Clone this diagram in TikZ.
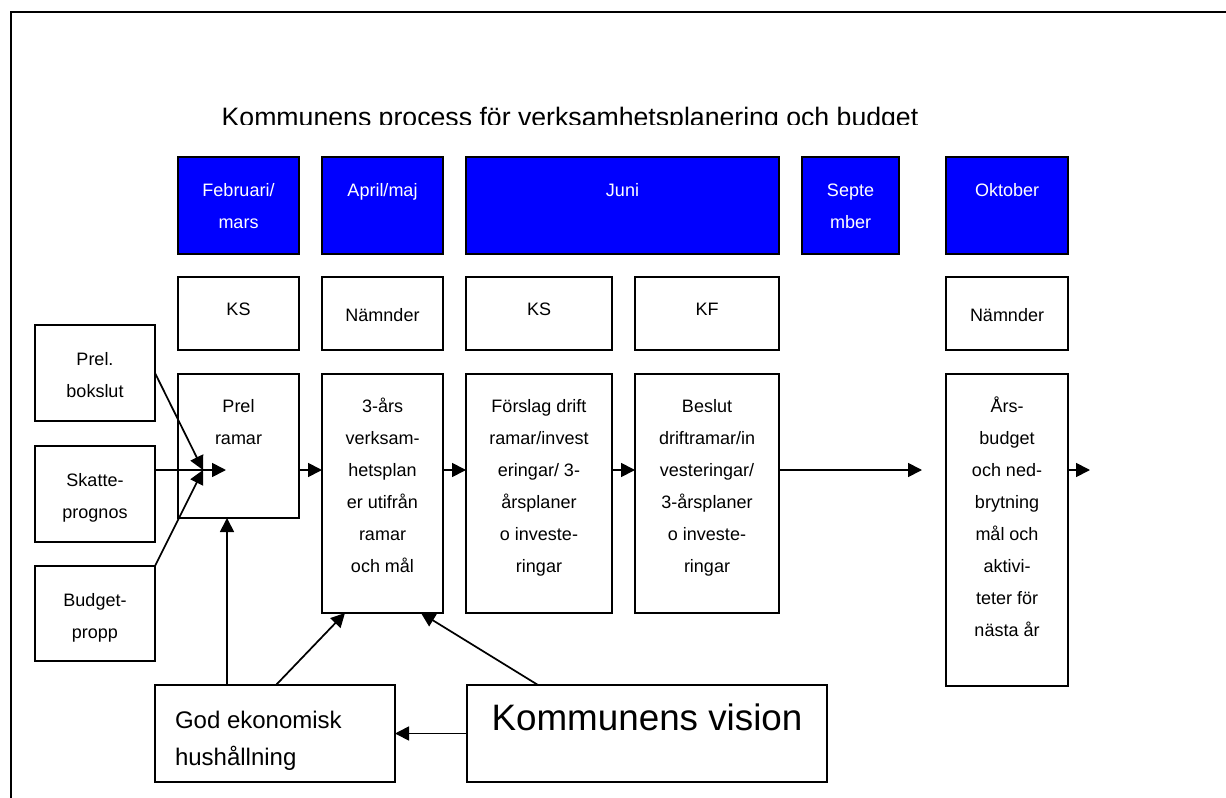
\documentclass[tikz,border=0pt]{standalone}
\usepackage{fontspec}
\setmainfont{Liberation Sans}
\usetikzlibrary{arrows.meta}
% box macro: name, x1, y1, x2, y2 (px), style, content
\newcommand\bxnode[7]{%
  \node[#6] (#1) at (#2,#3) {\parbox[c][\dimexpr(#5pt-#3pt)*3/4\relax][t]{\dimexpr(#4pt-#2pt)*3/4\relax}{#7}};}
\tikzset{
  box/.style={draw, line width=1.4pt, anchor=north west, inner sep=0pt, outer sep=0pt,
    font=\fontsize{13.5pt}{24pt}\selectfont},
  month/.style={box, fill=blue, text=white},
  plain/.style={box, fill=white},
  arr/.style={-{Triangle[length=10.5pt,width=10.5pt]}, line width=1.3pt},
  frame/.style={line width=1.4pt}
}
\newcommand\ft[1]{\centering\rule{0pt}{#1}}
\begin{document}
\begin{tikzpicture}[x=0.75pt,y=-0.75pt]
\useasboundingbox (0,0) rectangle (1226,798);
\fill[white] (0,0) rectangle (1226,798);
% outer frame (open on right and bottom)
\coordinate (fa) at (11,798);
\coordinate (fb) at (11,12);
\coordinate (fc) at (1226,12);
\draw[frame] (fa) -- (fb) -- (fc);
% title (clipped at bottom as in reference)
\begin{scope}
\clip (0,80) rectangle (1226,124.5);
\node[anchor=base, inner sep=0pt, font=\fontsize{20pt}{24pt}\selectfont] (title) at (570,127) {Kommunens process för verksamhetsplanering och budget};
\end{scope}
% month row
\bxnode{feb}{178}{157}{299}{254}{month}{\ft{29.5pt}Februari/\\mars}
\bxnode{apr}{322}{157}{443}{254}{month}{\ft{29.5pt}April/maj}
\bxnode{jun}{466}{157}{779}{254}{month}{\ft{29.5pt}Juni}
\bxnode{sep}{802}{157}{899}{254}{month}{\ft{29.5pt}Septe\\mber}
\bxnode{okt}{946}{157}{1068}{254}{month}{\ft{29.5pt}Oktober}
% actor row
\bxnode{ks1}{178}{277}{299}{350}{plain}{\ft{29pt}KS}
\bxnode{nam1}{322}{277}{443}{350}{plain}{\ft{33.5pt}Nämnder}
\bxnode{ks2}{466}{277}{612}{350}{plain}{\ft{29pt}KS}
\bxnode{kf}{635}{277}{779}{350}{plain}{\ft{29pt}KF}
\bxnode{nam2}{946}{277}{1068}{350}{plain}{\ft{33.5pt}Nämnder}
% process row
\bxnode{prel}{178}{374}{299}{518}{plain}{\ft{29pt}Prel\\ramar}
\bxnode{tre}{322}{374}{443}{613}{plain}{\ft{29pt}3-års\\verksam-\\hetsplan\\er utifrån\\ramar\\och mål}
\bxnode{forslag}{466}{374}{612}{613}{plain}{\ft{29pt}Förslag drift\\ramar/invest\\eringar/ 3-\\årsplaner\\o investe-\\ringar}
\bxnode{beslut}{635}{374}{779}{613}{plain}{\ft{29pt}Beslut\\driftramar/in\\vesteringar/\\3-årsplaner\\o investe-\\ringar}
\bxnode{ars}{946}{374}{1068}{686}{plain}{\ft{28.5pt}Års-\\budget\\och ned-\\brytning\\mål och\\aktivi-\\teter för\\nästa år}
% inputs
\bxnode{bokslut}{35}{325}{155}{421}{plain}{\ft{30pt}Prel.\\bokslut}
\bxnode{skatte}{35}{446}{155}{542}{plain}{\ft{30pt}Skatte-\\prognos}
\bxnode{budget}{35}{566}{155}{661}{plain}{\ft{30pt}Budget-\\propp}
% bottom
\bxnode{god}{155}{685}{395}{782}{plain}{\fontsize{18pt}{27.75pt}\selectfont\leftskip=15pt\rule{0pt}{32.25pt}God ekonomisk\\hushållning}
\bxnode{vision}{467}{685}{827}{782}{plain}{\fontsize{27.6pt}{33pt}\selectfont\centering\rule{0pt}{33.75pt}Kommunens vision}
% helper coordinates
\coordinate (row) at (0,470);
\coordinate (tipA) at (203,470);
\coordinate (tipB) at (226,470);
\coordinate (endA) at (922,470);
\coordinate (endB) at (1090,470);
\coordinate (vx) at (227,0);
\coordinate (g1) at (276,0);
\coordinate (t1) at (345,0);
\coordinate (v1) at (538,0);
\coordinate (t2) at (421,0);
% connectors
\draw[arr] (bokslut.east) -- (tipA);
\draw[arr] (skatte.east |- row) -- (tipB);
\draw[arr] (budget.north east) -- (tipA);
\draw[arr] (prel.east |- row) -- (tre.west |- row);
\draw[arr] (tre.east |- row) -- (forslag.west |- row);
\draw[arr] (forslag.east |- row) -- (beslut.west |- row);
\draw[arr] (beslut.east |- row) -- (endA);
\draw[arr] (ars.east |- row) -- (endB);
\draw[arr] (god.north -| vx) -- (prel.south -| vx);
\draw[arr] (god.north -| g1) -- (tre.south -| t1);
\draw[arr] (vision.north -| v1) -- (tre.south -| t2);
\draw[arr] (vision.west) -- (god.east);
\end{tikzpicture}
\end{document}
